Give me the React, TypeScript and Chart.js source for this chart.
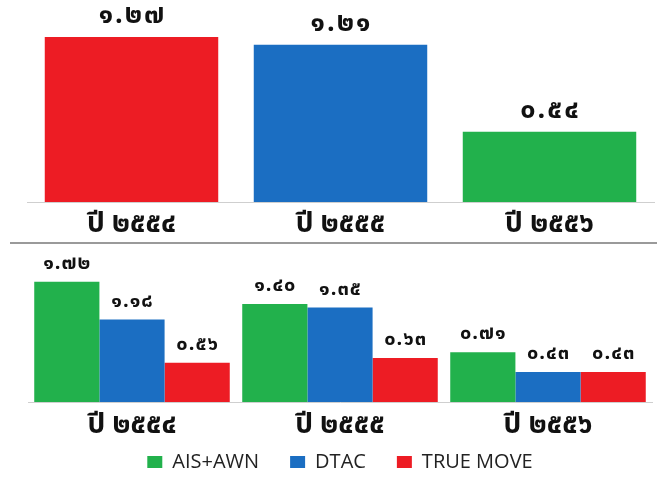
import React, { useEffect, useRef } from "react";
import { Chart, registerables } from "chart.js";

Chart.register(...registerables);

const years = ["ปี ๒๕๕๔", "ปี ๒๕๕๕", "ปี ๒๕๕๖"];
const topValues = [1.27, 1.21, 0.54];
const topColors = ["#ED1C24", "#1B6EC2", "#22B14C"];

const seriesNames = ["AIS+AWN", "DTAC", "TRUE MOVE"];
const aisValues = [1.72, 1.4, 0.71];
const dtacValues = [1.18, 1.35, 0.43];
const trueValues = [0.56, 0.63, 0.43];
const seriesColors = ["#22B14C", "#1B6EC2", "#ED1C24"];

const THAI_DIGITS = ["๐", "๑", "๒", "๓", "๔", "๕", "๖", "๗", "๘", "๙"];
const toThai = (v: number) =>
  v.toFixed(2).replace(/[0-9]/g, (d) => THAI_DIGITS[Number(d)]);

const THAI_FONT = "'Noto Sans Thai', 'Loma', 'Garuda', 'Tahoma', 'DejaVu Sans', sans-serif";

const makeLabelPlugin = (fontSize: number, offset: number, spacing: number) => ({
  id: "valueLabels",
  afterDatasetsDraw(chart: any) {
    const ctx = chart.ctx;
    ctx.save();
    ctx.font = `bold ${fontSize}px ${THAI_FONT}`;
    try {
      (ctx as any).letterSpacing = `${spacing}px`;
    } catch (e) {}
    ctx.fillStyle = "#111";
    ctx.textAlign = "center";
    ctx.textBaseline = "middle";
    chart.data.datasets.forEach((ds: any, di: number) => {
      const meta = chart.getDatasetMeta(di);
      meta.data.forEach((el: any, i: number) => {
        ctx.fillText(toThai(ds.data[i]), el.x + spacing / 2, el.y - offset);
      });
    });
    ctx.restore();
  },
});

const tightAxis = (h: number) => (scale: any) => {
  scale.height = h;
  // let the tick labels overflow the shortened axis box
  scale._computeLabelArea = () => undefined;
};

function TopChart() {
  const ref = useRef<HTMLCanvasElement>(null);
  useEffect(() => {
    const chart = new Chart(ref.current!, {
      type: "bar",
      data: {
        labels: years,
        datasets: [
          {
            data: topValues,
            backgroundColor: topColors,
            barPercentage: 0.83,
            categoryPercentage: 1,
          },
        ],
      },
      options: {
        animation: false,
        responsive: false,
        layout: { padding: { left: 27, right: 3, top: 10, bottom: 0 } },
        plugins: { legend: { display: false }, tooltip: { enabled: false } },
        scales: {
          y: { display: false, min: 0, max: 1.477 },
          x: {
            grid: { display: false },
            border: { display: true, color: "#cfcfcf" },
            afterFit: tightAxis(41),
            ticks: {
              color: "#111",
              font: { family: THAI_FONT, size: 28, weight: "bold", lineHeight: 1 },
              padding: 2,
            },
          },
        },
      },
      plugins: [makeLabelPlugin(27, 19, 2)],
    });
    return () => chart.destroy();
  }, []);
  return <canvas ref={ref} width={657} height={243} />;
}

function BottomChart() {
  const ref = useRef<HTMLCanvasElement>(null);
  useEffect(() => {
    const values = [aisValues, dtacValues, trueValues];
    const chart = new Chart(ref.current!, {
      type: "bar",
      data: {
        labels: years,
        datasets: seriesNames.map((name, i) => ({
          label: name,
          data: values[i],
          backgroundColor: seriesColors[i],
          barPercentage: 1,
          categoryPercentage: 0.94,
        })),
      },
      options: {
        animation: false,
        responsive: false,
        layout: { padding: { left: 28, right: 5, top: 10, bottom: 0 } },
        plugins: {
          legend: {
            position: "bottom",
            labels: {
              boxWidth: 15,
              boxHeight: 12,
              padding: 31,
              color: "#222",
              font: { family: "'Open Sans', sans-serif", size: 20 },
            },
          },
          tooltip: { enabled: false },
        },
        scales: {
          y: { display: false, min: 0, max: 2.13 },
          x: {
            grid: { display: false },
            border: { display: true, color: "#cfcfcf" },
            afterFit: tightAxis(19),
            ticks: {
              color: "#111",
              font: { family: THAI_FONT, size: 28, weight: "bold", lineHeight: 1 },
              padding: 3,
            },
          },
        },
      },
      plugins: [makeLabelPlugin(20, 17, 1)],
    });
    return () => chart.destroy();
  }, []);
  return <canvas ref={ref} width={657} height={239} />;
}

export default function App() {
  return (
    <div
      style={{
        position: "fixed",
        left: 0,
        top: 0,
        width: 657,
        height: 480,
        background: "#fff",
        overflow: "hidden",
      }}
    >
      <div style={{ position: "absolute", left: 0, top: 0 }}>
        <TopChart />
      </div>
      <div
        style={{
          position: "absolute",
          left: 10,
          top: 242,
          width: 647,
          height: 2,
          background: "#9a9a9a",
        }}
      />
      <div style={{ position: "absolute", left: 0, top: 243 }}>
        <BottomChart />
      </div>
    </div>
  );
}
